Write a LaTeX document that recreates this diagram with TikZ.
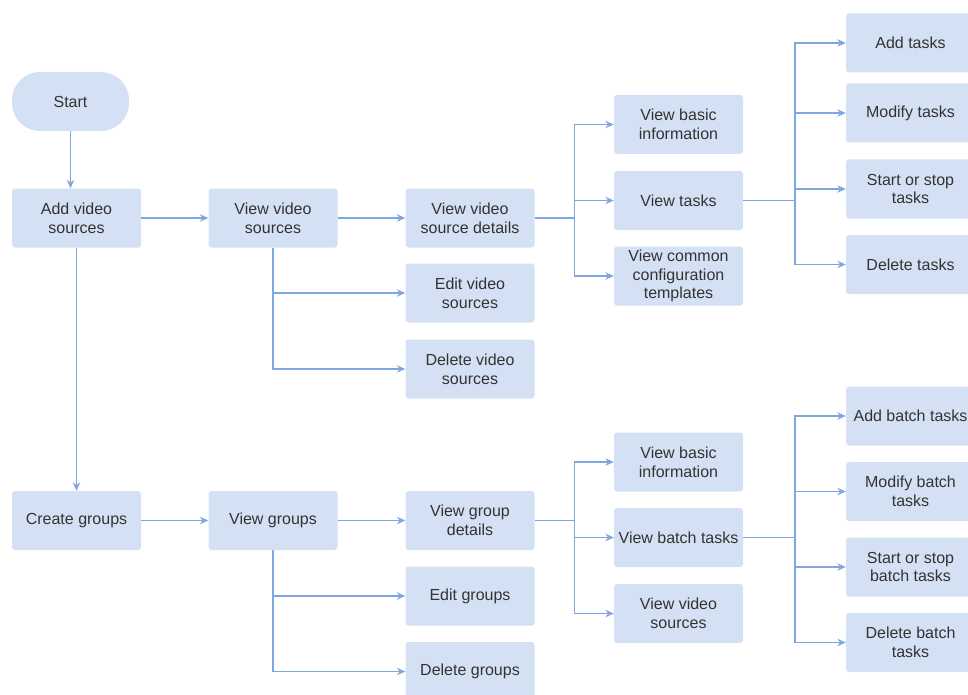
\documentclass[tikz,border=0pt]{standalone}
\usepackage{fontspec}
\setmainfont{Liberation Sans}
\usetikzlibrary{arrows.meta}
\definecolor{boxfill}{HTML}{D4E1F5}
\definecolor{linecol}{HTML}{7EA6E0}
\definecolor{txtcol}{HTML}{333333}
\tikzset{
  boxnode/.style={fill=boxfill, draw=none, rounded corners=3pt, minimum width=129pt, minimum height=59pt, inner sep=0pt, align=center, text=txtcol, font=\fontsize{16}{18.8}\selectfont},
  startnode/.style={boxnode, rounded corners=28pt, minimum width=117pt},
  conn/.style={draw=linecol, line width=1.1pt, -{Stealth[length=8.5pt,width=7.5pt]}},
  plainconn/.style={draw=linecol, line width=1.1pt}
}
\begin{document}
\begin{tikzpicture}[x=1pt,y=-1pt]
\useasboundingbox (0,0) rectangle (968,695);
\clip (0,0) rectangle (968,695);
% top part
\node[startnode] (start) at (70.5,101.5) {Start};
\node[boxnode] (avs) at (76.5,218) {Add video\\sources};
\node[boxnode] (vvs) at (273,218) {View video\\sources};
\node[boxnode] (vvsd) at (470,218) {View video\\source details};
\node[boxnode] (evs) at (470,293) {Edit video\\sources};
\node[boxnode] (dvs) at (470,369) {Delete video\\sources};
\node[boxnode] (vbi1) at (678.5,124.5) {View basic\\information};
\node[boxnode] (vt) at (678.5,200.5) {View tasks};
\node[boxnode] (vcct) at (678.5,276) {View common\\configuration\\templates};
\node[boxnode] (at) at (910.5,43) {Add tasks};
\node[boxnode] (mt) at (910.5,113) {Modify tasks};
\node[boxnode] (sst) at (910.5,189) {Start or stop\\tasks};
\node[boxnode] (dt) at (910.5,264.5) {Delete tasks};
% bottom part
\node[boxnode] (cg) at (76.5,520.5) {Create groups};
\node[boxnode] (vg) at (273,520.5) {View groups};
\node[boxnode] (vgd) at (470,520.5) {View group\\details};
\node[boxnode] (eg) at (470,596) {Edit groups};
\node[boxnode] (dg) at (470,671.5) {Delete groups};
\node[boxnode] (vbi2) at (678.5,462) {View basic\\information};
\node[boxnode] (vbt) at (678.5,537.5) {View batch tasks};
\node[boxnode] (vvs2) at (678.5,613.5) {View video\\sources};
\node[boxnode] (abt) at (910.5,416) {Add batch tasks};
\node[boxnode] (mbt) at (910.5,491.5) {Modify batch\\tasks};
\node[boxnode] (ssbt) at (910.5,567) {Start or stop\\batch tasks};
\node[boxnode] (dbt) at (910.5,642.5) {Delete batch\\tasks};
% junctions
\coordinate (j1) at (574.5,218);
\coordinate (j2) at (795,200.5);
\coordinate (j3) at (574.5,520.5);
\coordinate (j4) at (795,537.5);
% connectors
\draw[conn] (start.south) -- (start.south |- avs.north);
\draw[conn] (avs.south) -- (cg.north);
\draw[conn] (avs.east) -- (vvs.west);
\draw[conn] (vvs.east) -- (vvsd.west);
\draw[conn] (vvs.south) |- (evs.west);
\draw[conn] (vvs.south) |- (dvs.west);
\draw[plainconn] (vvsd.east) -- (j1);
\draw[conn] (j1) |- (vbi1.west);
\draw[conn] (j1) |- (vt.west);
\draw[conn] (j1) |- (vcct.west);
\draw[plainconn] (vt.east) -- (j2);
\draw[conn] (j2) |- (at.west);
\draw[conn] (j2) |- (mt.west);
\draw[conn] (j2) |- (sst.west);
\draw[conn] (j2) |- (dt.west);
\draw[conn] (cg.east) -- (vg.west);
\draw[conn] (vg.east) -- (vgd.west);
\draw[conn] (vg.south) |- (eg.west);
\draw[conn] (vg.south) |- (dg.west);
\draw[plainconn] (vgd.east) -- (j3);
\draw[conn] (j3) |- (vbi2.west);
\draw[conn] (j3) |- (vbt.west);
\draw[conn] (j3) |- (vvs2.west);
\draw[plainconn] (vbt.east) -- (j4);
\draw[conn] (j4) |- (abt.west);
\draw[conn] (j4) |- (mbt.west);
\draw[conn] (j4) |- (ssbt.west);
\draw[conn] (j4) |- (dbt.west);
\end{tikzpicture}
\end{document}
